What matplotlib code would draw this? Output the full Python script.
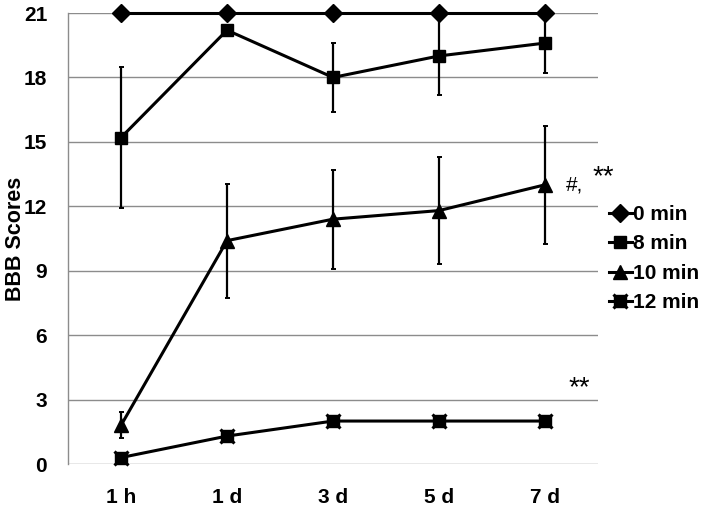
import matplotlib
matplotlib.use("Agg")
import matplotlib.pyplot as plt
from matplotlib.lines import Line2D

plt.rcParams['font.family'] = ['Liberation Sans', 'DejaVu Sans']
plt.rcParams['font.weight'] = 'bold'

categories = ["1 h", "1 d", "3 d", "5 d", "7 d"]
series_names = ["0 min", "8 min", "10 min", "12 min"]
vals_0 = [21, 21, 21, 21, 21]
err_0 = [0, 0, 0, 0, 0]
vals_8 = [15.2, 20.2, 18.0, 19.0, 19.6]
err_8 = [3.3, 0.0, 1.6, 1.8, 1.4]
vals_10 = [1.8, 10.4, 11.4, 11.8, 13.0]
err_10 = [0.6, 2.65, 2.3, 2.5, 2.75]
vals_12 = [0.3, 1.3, 2.0, 2.0, 2.0]
err_12 = [0.2, 0.2, 0.05, 0.05, 0.05]
yticks = [0, 3, 6, 9, 12, 15, 18, 21]

fig = plt.figure(figsize=(7.04, 5.08), dpi=100)
ax = fig.add_axes([68/704, 1-464/508, (598-68)/704, (464-13)/508])
x = list(range(len(categories)))

for yv in yticks:
    ax.axhline(yv, color='#8c8c8c', lw=1.0, zorder=0)

styles = [('D', 9), ('s', 9), ('^', 10), ('s', 8)]
data = [(vals_0, err_0), (vals_8, err_8), (vals_10, err_10), (vals_12, err_12)]
for (v, e), (m, ms) in zip(data, styles):
    cont = ax.errorbar(x, v, yerr=e, color='black', lw=2.2, marker=m, ms=ms,
                       elinewidth=1.6, capsize=1.8, capthick=1.4, zorder=3)
    for art in cont.get_children():
        art.set_clip_on(False)
ax.plot(x, vals_12, linestyle='none', marker='x', ms=10, mew=2.2, color='black',
        zorder=4, clip_on=False)

ax.set_xlim(-0.5, 4.5)
ax.set_ylim(0, 21)
ax.set_yticks(yticks)
ax.set_xticks(x)
ax.set_xticklabels(categories, fontsize=15, fontweight='bold')
ax.set_yticklabels([str(t) for t in yticks], fontsize=15, fontweight='bold')
ax.tick_params(axis='y', length=0, pad=15)
ax.tick_params(axis='x', length=0, pad=17)
for s in ['top', 'right', 'bottom']:
    ax.spines[s].set_visible(False)
ax.spines['left'].set_color('#8c8c8c')
ax.spines['left'].set_linewidth(1.0)
ax.set_ylabel("BBB Scores", fontsize=15.5, fontweight='bold')
ax.yaxis.set_label_coords(-0.080, 0.5)

ax.text(4.28, 13.0, "#,", fontsize=15, fontweight='normal', ha='center', va='center', clip_on=False)
ax.text(4.55, 13.35, "**", fontsize=20, fontweight='normal', ha='center', va='center', clip_on=False)
ax.text(4.32, 3.55, "**", fontsize=20, fontweight='normal', ha='center', va='center', clip_on=False)

handles = [
    Line2D([], [], color='black', lw=2.2, marker='D', ms=9),
    Line2D([], [], color='black', lw=2.2, marker='s', ms=9),
    Line2D([], [], color='black', lw=2.2, marker='^', ms=10),
    (Line2D([], [], color='black', lw=2.2, marker='s', ms=8),
     Line2D([], [], color='black', lw=0, marker='x', ms=10, mew=2.2)),
]
leg = fig.legend(handles, series_names, loc='upper left', bbox_to_anchor=(609/704, 1-205/508),
                 frameon=False, fontsize=15, handlelength=1.1, handletextpad=0.05,
                 labelspacing=0.5, borderaxespad=0, borderpad=0)
for t in leg.get_texts():
    t.set_fontweight('bold')

fig.savefig("out.png", dpi=100)
